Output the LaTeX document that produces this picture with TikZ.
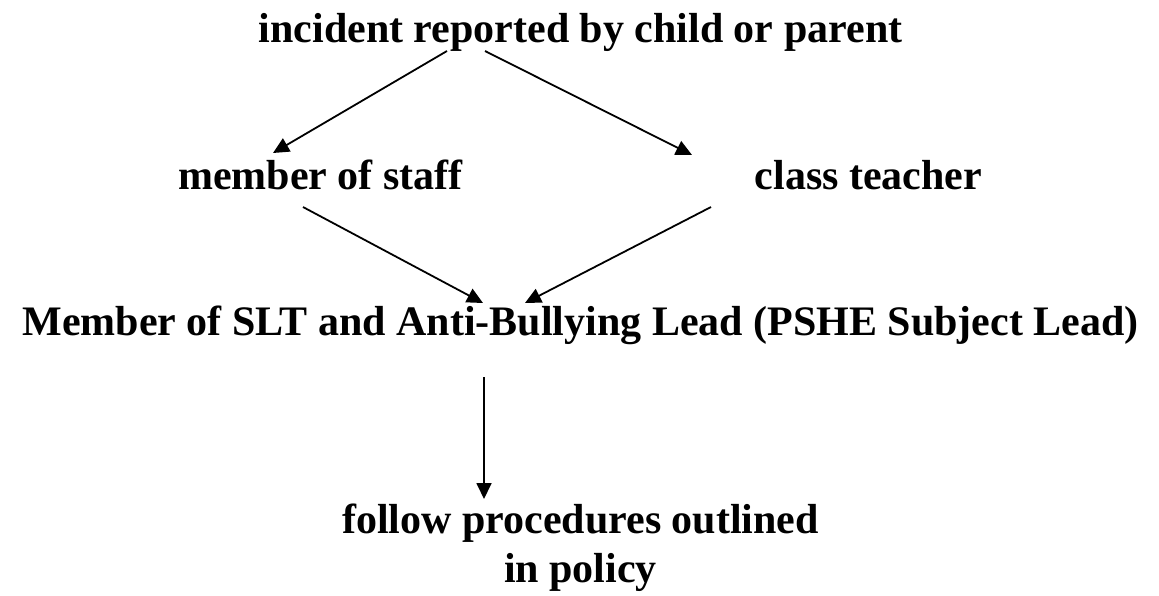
\documentclass[tikz,border=0pt]{standalone}
\usepackage{fontspec}
\setmainfont{Liberation Serif}
\usetikzlibrary{arrows.meta}
\begin{document}
\begin{tikzpicture}[x=1pt,y=-1pt,
  lbl/.style={anchor=base,inner sep=0pt,font=\fontsize{42}{49}\selectfont\bfseries},
  conn/.style={line width=1.8pt,-{Triangle[length=16pt,width=15pt]}}]
\useasboundingbox (0,0) rectangle (1159,595);
\node[lbl] (top) at (580.5,42) {incident reported by child or parent};
\node[lbl] (staff) at (320.5,189.5) {member of staff};
\node[lbl] (teacher) at (868.5,189.5) {class teacher};
\node[lbl] (slt) at (580.5,335) {Member of SLT and Anti-Bullying Lead (PSHE Subject Lead)};
\node[lbl,align=center] (follow) at (580.5,582) {follow procedures outlined\\in policy};
\coordinate (a1s) at (447,51);  \coordinate (a1e) at (273,153);
\coordinate (a2s) at (485,51);  \coordinate (a2e) at (692,155);
\coordinate (a3s) at (303,207); \coordinate (a3e) at (483,303);
\coordinate (a4s) at (711,207); \coordinate (a4e) at (525,303);
\coordinate (a5s) at (484,377); \coordinate (a5e) at (484,499);
\draw[conn] (a1s) -- (a1e);
\draw[conn] (a2s) -- (a2e);
\draw[conn] (a3s) -- (a3e);
\draw[conn] (a4s) -- (a4e);
\draw[conn] (a5s) -- (a5e);
\end{tikzpicture}
\end{document}
